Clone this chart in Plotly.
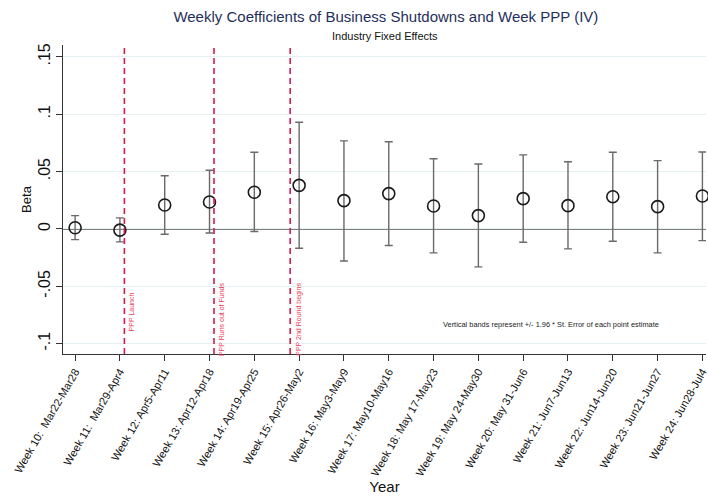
import plotly.graph_objects as go

weeks = list(range(10, 25))
tick_labels = ["Week 10:  Mar22-Mar28", "Week 11:  Mar29-Apr4", "Week 12: Apr5-Apr11",
               "Week 13: Apr12-Apr18", "Week 14: Apr19-Apr25", "Week 15: Apr26-May2",
               "Week 16: May3-May9", "Week 17: May10-May16", "Week 18: May 17-May23",
               "Week 19: May 24-May30", "Week 20: May 31-Jun6", "Week 21: Jun7-Jun13",
               "Week 22: Jun14-Jun20", "Week 23: Jun21-Jun27", "Week 24: Jun28-Jul4"]
beta = [0.001, -0.001, 0.0209, 0.0235, 0.032, 0.038, 0.0247, 0.0308, 0.020, 0.0116,
        0.0264, 0.0203, 0.0281, 0.0194, 0.0287]
ci_hi = [0.0116, 0.0096, 0.0464, 0.0511, 0.0668, 0.093, 0.0767, 0.076, 0.0612, 0.0566,
         0.0645, 0.0586, 0.0668, 0.0595, 0.0671]
ci_lo = [-0.0093, -0.0113, -0.0046, -0.0035, -0.0023, -0.0168, -0.0279, -0.0145, -0.0209,
         -0.0331, -0.0116, -0.0174, -0.0107, -0.0209, -0.0102]
event_x = [11.1, 13.1, 14.8]
event_labels = ["PPP Launch", "PPP Runs out of Funds", "PPP 2nd Round begins"]
event_label_y = [-0.072, -0.079, -0.079]
y_ticks = [-0.1, -0.05, 0, 0.05, 0.1, 0.15]
y_tick_text = ["-.1", "-.05", "0", ".05", ".1", ".15"]

FONT = "Liberation Sans, Arial, sans-serif"

err_plus = [h - b for h, b in zip(ci_hi, beta)]
err_minus = [b - l for b, l in zip(beta, ci_lo)]

fig = go.Figure()
fig.add_trace(go.Scatter(
    x=weeks, y=beta, mode="markers",
    marker=dict(symbol="circle-open", size=12, color="#1a1a1a", line=dict(width=1.6)),
    error_y=dict(type="data", symmetric=False, array=err_plus, arrayminus=err_minus,
                 color="#6a6a6a", thickness=1.4, width=4),
    showlegend=False, hoverinfo="skip", cliponaxis=False))

shapes = []
shapes.append(dict(type="line", xref="paper", yref="y", x0=0, x1=1, y0=0, y1=0,
                   line=dict(color="#555555", width=1.4), layer="below"))
for ex in event_x:
    shapes.append(dict(type="line", xref="x", yref="paper", x0=ex, x1=ex, y0=0, y1=1,
                       line=dict(color="#d21c4b", width=1.6, dash="6px,4px")))

annotations = []
for ex, lab, ly in zip(event_x, event_labels, event_label_y):
    annotations.append(dict(x=ex, y=ly, xref="x", yref="y", text=lab, textangle=-90,
                            showarrow=False, xanchor="left", yanchor="middle", xshift=2,
                            font=dict(family=FONT, size=7, color="#e8405a")))
annotations.append(dict(x=0.588, y=-0.0835, xref="paper", yref="y",
                        text="Vertical bands represent +/- 1.96 * St. Error of each point estimate",
                        showarrow=False, xanchor="left", yanchor="middle",
                        font=dict(family=FONT, size=7.4, color="#222222")))
annotations.append(dict(x=0.5, y=1.0, xref="paper", yref="paper", yshift=17,
                        text="Industry Fixed Effects", showarrow=False,
                        font=dict(family=FONT, size=11, color="#111111")))

fig.update_layout(
    width=708, height=504,
    margin=dict(l=63, r=2, t=45, b=150),
    paper_bgcolor="white", plot_bgcolor="white",
    title=dict(text="Weekly Coefficients of Business Shutdowns and Week PPP (IV)",
               x=0.545, xanchor="center", y=0.966, yanchor="middle",
               font=dict(family=FONT, size=15, color="#1f2f5c")),
    shapes=shapes, annotations=annotations,
    xaxis=dict(range=[9.73, 24.08], tickmode="array", tickvals=weeks, ticktext=tick_labels,
               tickangle=-60, ticks="outside", ticklen=6, tickcolor="#333333",
               showline=True, linecolor="#333333", linewidth=1.2, showgrid=False,
               zeroline=False, automargin=False, ticklabeloverflow="allow",
               tickfont=dict(family=FONT, size=11, color="#111111"),
               title=dict(text="Year", font=dict(family=FONT, size=15, color="#111111"),
                          standoff=0)),
    yaxis=dict(range=[-0.109, 0.1603], tickmode="array", tickvals=y_ticks, ticktext=y_tick_text,
               tickangle=-90, ticks="outside", ticklen=6, tickcolor="#333333",
               showline=True, linecolor="#333333", linewidth=1.2, automargin=False,
               showgrid=True, gridcolor="#e6eff1", gridwidth=1, zeroline=False,
               tickfont=dict(family=FONT, size=16, color="#111111"),
               title=dict(text="Beta", font=dict(family=FONT, size=13, color="#111111"),
                          standoff=0)),
)

fig.write_html("out.html", config={"displayModeBar": False},
               post_script="document.body.style.margin='0';")
